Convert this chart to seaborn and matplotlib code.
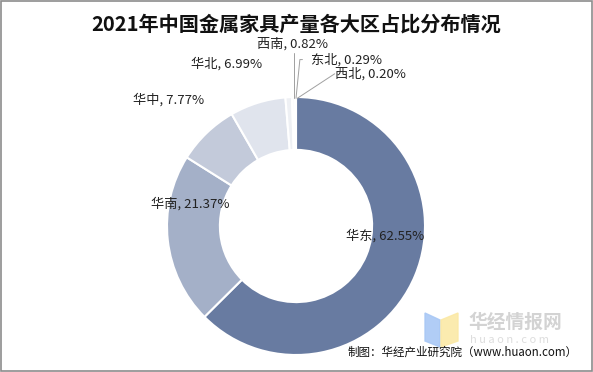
import matplotlib
matplotlib.use("Agg")
import matplotlib.pyplot as plt
import seaborn as sns
from matplotlib.patches import Rectangle, Polygon

regions = ["华东", "华南", "华中", "华北", "西南", "东北", "西北"]
shares = [62.55, 21.37, 7.77, 6.99, 0.82, 0.29, 0.20]
colors = ["#687ba1", "#a4b0c8", "#c3cada", "#e0e4ed", "#eef0f4", "#dfe3ea", "#cfd5e0"]
title = "2021年中国金属家具产量各大区占比分布情况"
source = "制图：华经产业研究院（www.huaon.com）"

sns.set_theme(style="white")
plt.rcParams['font.family'] = ['Noto Sans CJK SC', 'DejaVu Sans']

fig = plt.figure(figsize=(5.93, 3.72), dpi=100)
W, H = 593, 372
R = 129
half = 1.6
ax = fig.add_axes([(296 - half * R) / W, 1 - (226 + half * R) / H, 2 * half * R / W, 2 * half * R / H])

wedges, _ = ax.pie(shares, colors=colors, startangle=90, counterclock=False, radius=1.0,
                   wedgeprops=dict(width=0.41, edgecolor="white", linewidth=1.5))
ax.set_xlim(-half, half)
ax.set_ylim(-half, half)
ax.set_aspect('equal')
ax.axis('off')

label_pos = [(0.69, -0.08), (-0.82, 0.17), (-0.99, 0.98), (-0.54, 1.26), (-0.03, 1.41), (0.39, 1.29), (0.58, 1.18)]
for name, v, (x, y) in zip(regions, shares, label_pos):
    ax.text(x, y, f"{name}, {v:.2f}%", ha="center", va="center", fontsize=9.5, color="#222222")

lc = "#a0a0a0"
ax.plot([-0.015, -0.015], [1.34, 0.99], color=lc, lw=0.7)
ax.plot([0.05, 0.03, 0.0], [1.29, 1.29, 0.99], color=lc, lw=0.7)
ax.plot([0.30, 0.01], [1.18, 0.99], color=lc, lw=0.7)

fig.text(296 / W, 1 - 24 / H, title, ha="center", va="center", fontsize=14.5, fontweight="bold", color="#111111")
fig.text(578 / W, 1 - 352 / H, source, ha="right", va="center", fontsize=8.3, color="#111111")

fa = fig.add_axes([0, 0, 1, 1], zorder=-1)
fa.set_xlim(0, W)
fa.set_ylim(H, 0)
fa.axis('off')
fa.add_patch(Polygon([(425, 313), (440, 320), (440, 347), (425, 341)], closed=True, color="#a9c8f5", alpha=0.9))
fa.add_patch(Polygon([(441, 320), (458, 313), (458, 341), (441, 347)], closed=True, color="#fbe9a6", alpha=0.9))
fa.text(468, 322, "华经情报网", fontsize=13.5, fontweight="bold", color="#d3d3d3", va="center", ha="left")
fa.text(470, 340, "h u a o n . c o m", fontsize=8, color="#dddddd", va="center", ha="left")
fa.add_patch(Rectangle((0.5, 0.5), W - 1.5, H - 1.5, fill=False, edgecolor="#8c8c8c", lw=1.2))

fig.savefig("out.png", dpi=100)
